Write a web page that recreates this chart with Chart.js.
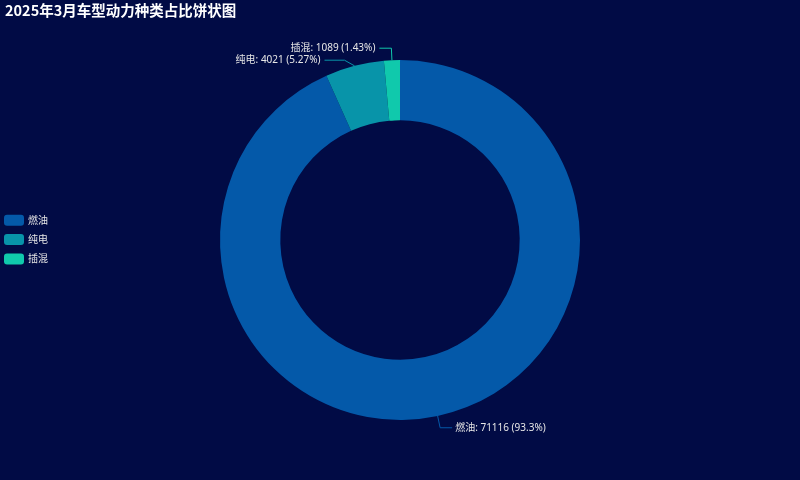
<!DOCTYPE html>
<html lang="zh">

<head>
    <meta charset="UTF-8">
    <title>2025年3月车型动力种类占比饼状图</title>
    <style>
        html, body { margin: 0; padding: 0; background: #010b45; }
        #wrap { width: 800px; height: 480px; }
    </style>
</head>

<body>
    <div id="wrap">
        <canvas id="myChart"></canvas>
    </div>

    <script src="https://cdn.jsdelivr.net/npm/chart.js"></script>

    <script>
        // datos
        const categorias = ['燃油', '纯电', '插混'];
        const valores = [71116, 4021, 1089];
        const porcentajes = ['93.3%', '5.27%', '1.43%'];
        const colores = ['#0459a9', '#0894a9', '#10c9ac'];
        const titulo = '2025年3月车型动力种类占比饼状图';

        const fuente = '"Noto Sans", "Noto Sans CJK SC", sans-serif';

        // titulo, leyenda y etiquetas con lineas
        const decoraciones = {
            id: 'decoraciones',
            beforeDraw(chart) {
                const c = chart.ctx;
                c.save();
                c.fillStyle = '#010b45';
                c.fillRect(0, 0, chart.width, chart.height);
                c.restore();
            },
            afterDraw(chart) {
                const c = chart.ctx;
                c.save();

                // titulo
                c.fillStyle = '#ffffff';
                c.font = 'bold 14.5px "Noto Sans CJK SC", sans-serif';
                c.textBaseline = 'middle';
                c.textAlign = 'left';
                c.fillText(titulo, 5, 10);

                // leyenda
                c.font = '10px ' + fuente;
                categorias.forEach((cat, i) => {
                    const y = 220.3 + i * 19.3;
                    c.fillStyle = colores[i];
                    c.beginPath();
                    c.roundRect(4, y - 5.5, 20, 11, 3);
                    c.fill();
                    c.fillStyle = '#e6e6e6';
                    c.fillText(cat, 28, y + 0.5);
                });

                // etiquetas: primero posiciones, luego evitar solapes
                const meta = chart.getDatasetMeta(0);
                const etiquetas = meta.data.map((arc, i) => {
                    const mid = (arc.startAngle + arc.endAngle) / 2;
                    const r = arc.outerRadius;
                    return {
                        i: i,
                        derecha: Math.cos(mid) >= 0,
                        x0: arc.x + Math.cos(mid) * r,
                        y0: arc.y + Math.sin(mid) * r,
                        x1: arc.x + Math.cos(mid) * (r + 12),
                        y1: arc.y + Math.sin(mid) * (r + 12),
                        movida: false
                    };
                });
                [true, false].forEach(lado => {
                    const grupo = etiquetas.filter(e => e.derecha === lado).sort((a, b) => a.y1 - b.y1);
                    for (let k = 1; k < grupo.length; k++) {
                        if (grupo[k].y1 - grupo[k - 1].y1 < 12) {
                            grupo[k].y1 = grupo[k - 1].y1 + 12;
                            grupo[k].x1 = grupo[k].x0 + (lado ? 10 : -10);
                            grupo[k].movida = true;
                        }
                    }
                });

                etiquetas.forEach(e => {
                    const largo = e.movida ? 20 : 12;
                    const x2 = e.x1 + (e.derecha ? largo : -largo);

                    c.strokeStyle = colores[e.i];
                    c.lineWidth = 1;
                    c.beginPath();
                    c.moveTo(e.x0, e.y0);
                    c.lineTo(e.x1, e.y1);
                    c.lineTo(x2, e.y1);
                    c.stroke();

                    c.fillStyle = '#e6e6e6';
                    c.font = '10px ' + fuente;
                    c.textAlign = e.derecha ? 'left' : 'right';
                    c.textBaseline = 'middle';
                    const texto = categorias[e.i] + ': ' + valores[e.i] + ' (' + porcentajes[e.i] + ')';
                    c.fillText(texto, x2 + (e.derecha ? 3 : -4), e.y1);
                });

                c.restore();
            }
        };

        const ctx = document.getElementById('myChart');

        new Chart(ctx, {
            type: 'doughnut',
            data: {
                labels: categorias,
                datasets: [{
                    data: valores,
                    backgroundColor: colores,
                    borderWidth: 0,
                    hoverOffset: 0
                }]
            },
            options: {
                responsive: true,
                maintainAspectRatio: false,
                animation: false,
                cutout: '66.5%',
                layout: {
                    padding: { top: 60, bottom: 60, left: 0, right: 0 }
                },
                plugins: {
                    legend: { display: false },
                    title: { display: false },
                    tooltip: { enabled: false }
                }
            },
            plugins: [decoraciones]
        });
    </script>
</body>

</html>
